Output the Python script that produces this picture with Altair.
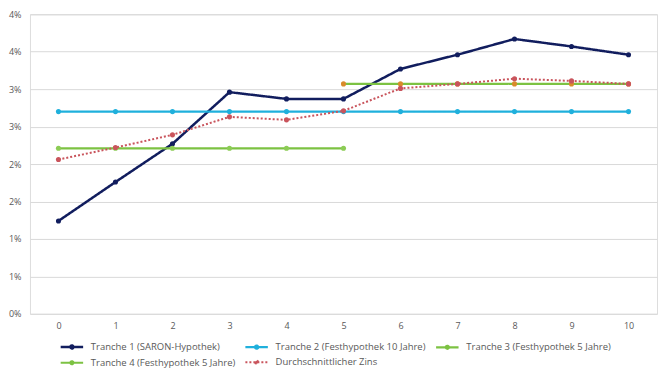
import altair as alt
import pandas as pd

series_names = [
    "Tranche 1 (SARON-Hypothek)",
    "Tranche 2 (Festhypothek 10 Jahre)",
    "Tranche 3 (Festhypothek 5 Jahre)",
    "Tranche 4 (Festhypothek 5 Jahre)",
    "Durchschnittlicher Zins",
]

x_all = [0, 1, 2, 3, 4, 5, 6, 7, 8, 9, 10]
tranche1 = [1.24, 1.76, 2.27, 2.96, 2.87, 2.87, 3.27, 3.46, 3.67, 3.57, 3.46]
tranche2 = [2.70, 2.70, 2.70, 2.70, 2.70, 2.70, 2.70, 2.70, 2.70, 2.70, 2.70]
x_t3 = [0, 1, 2, 3, 4, 5]
tranche3 = [2.21, 2.21, 2.21, 2.21, 2.21, 2.21]
x_t4 = [5, 6, 7, 8, 9, 10]
tranche4 = [3.07, 3.07, 3.07, 3.07, 3.07, 3.07]
average = [2.06, 2.22, 2.39, 2.63, 2.59, 2.71, 3.01, 3.07, 3.14, 3.11, 3.07]

line_colors = ["#111d5e", "#1fb0dc", "#7cc242", "#7cc242", "#c9545c"]
marker_colors = ["#111d5e", "#1fb0dc", "#8ccc55", "#d98b2b", "#c9545c"]
stroke_widths = [2.5, 2, 2, 2, 1.3]
dashes = [[1, 0], [1, 0], [1, 0], [1, 0], [2, 2]]

y_ticks = [0, 0.005, 0.01, 0.015, 0.02, 0.025, 0.03, 0.035, 0.04]

rows = []
for xs, ys, name in [
    (x_all, tranche1, series_names[0]),
    (x_all, tranche2, series_names[1]),
    (x_t3, tranche3, series_names[2]),
    (x_t4, tranche4, series_names[3]),
    (x_all, average, series_names[4]),
]:
    for xv, yv in zip(xs, ys):
        rows.append({"x": xv, "value": yv / 100.0, "series": name})
df = pd.DataFrame(rows)

sym_path = "M-1.5,0L1.5,0M-0.2,0A0.2,0.2 0 1,0 0.2,0A0.2,0.2 0 1,0 -0.2,0Z"

legend = alt.Legend(
    title=None,
    orient="none",
    legendX=33,
    legendY=324,
    direction="horizontal",
    columns=3,
    columnPadding=5,
    rowPadding=0,
    symbolType=sym_path,
    symbolSize=225,
    symbolStrokeWidth=2,
    labelFontSize=9.5,
    labelOffset=10,
    labelColor="#595959",
    labelFont="Open Sans",
    labelLimit=300,
)

x_enc = alt.X(
    "x:O",
    scale=alt.Scale(type="point", padding=0.5),
    axis=alt.Axis(title=None, labelAngle=0, ticks=False, domain=False, grid=False,
                  labelPadding=8, labelFontSize=9, labelColor="#595959", labelFont="Open Sans"),
)
y_enc = alt.Y(
    "value:Q",
    scale=alt.Scale(domain=[0, 0.04], nice=False),
    axis=alt.Axis(title=None, values=y_ticks, format=".0%", ticks=False, domain=False,
                  labelPadding=9, labelFontSize=9, labelColor="#595959", labelFont="Open Sans",
                  gridColor="#d9d9d9", gridWidth=1),
)

lines = alt.Chart(df).mark_line().encode(
    x=x_enc,
    y=y_enc,
    color=alt.Color("series:N", scale=alt.Scale(domain=series_names, range=line_colors), legend=legend, sort=series_names),
    strokeDash=alt.StrokeDash("series:N", scale=alt.Scale(domain=series_names, range=dashes), legend=legend, sort=series_names),
    strokeWidth=alt.StrokeWidth("series:N", scale=alt.Scale(domain=series_names, range=stroke_widths), legend=legend, sort=series_names),
    detail="series:N",
)

points = alt.Chart(df).mark_circle(opacity=1).encode(
    x=x_enc,
    y=y_enc,
    fill=alt.Fill("series:N", scale=alt.Scale(domain=series_names, range=marker_colors), legend=legend, sort=series_names),
    size=alt.value(26),
)

chart = alt.layer(lines, points).properties(
    width=628,
    height=300,
    padding={"left": 0, "top": 2, "right": 5, "bottom": 5},
).configure_view(stroke=None).configure(font="Open Sans")

chart.save("out.html", embed_options={"renderer": "svg", "actions": False})
